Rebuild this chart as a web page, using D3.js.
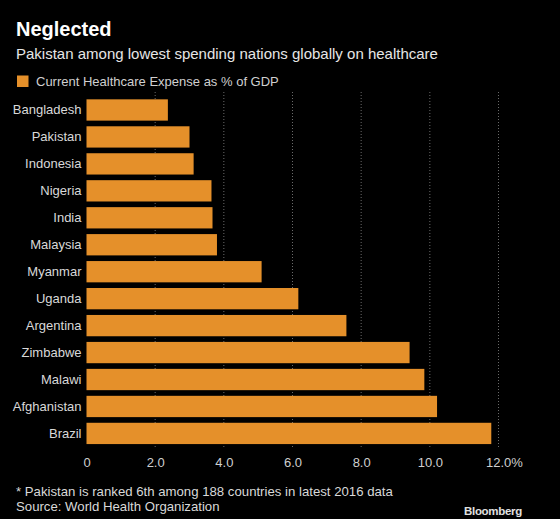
<!DOCTYPE html>
<html><head><meta charset="utf-8">
<script src="https://cdn.jsdelivr.net/npm/d3@7"></script>
<style>html,body{margin:0;padding:0;background:#000;}svg{display:block;}</style>
</head><body>
<script>
const countries = ["Bangladesh","Pakistan","Indonesia","Nigeria","India","Malaysia","Myanmar","Uganda","Argentina","Zimbabwe","Malawi","Afghanistan","Brazil"];
const values = [2.37,3.00,3.12,3.64,3.67,3.80,5.10,6.17,7.57,9.41,9.84,10.21,11.79];
const tickValues = [0,2,4,6,8,10,12];
const tickLabels = ["0","2.0","4.0","6.0","8.0","10.0","12.0"];

const W=560,H=519;
const font="'Liberation Sans', Arial, sans-serif";
const svg=d3.select("body").append("svg").attr("width",W).attr("height",H).style("background","#000");

svg.append("text").attr("x",16).attr("y",35.5).attr("fill","#fff").attr("font-family",font).attr("font-weight","bold").attr("font-size",20).text("Neglected");
svg.append("text").attr("x",16).attr("y",58.5).attr("fill","#e6e6e6").attr("font-family",font).attr("font-size",15).text("Pakistan among lowest spending nations globally on healthcare");
svg.append("rect").attr("x",17).attr("y",75.5).attr("width",11.5).attr("height",11.5).attr("fill","#E5902A");
svg.append("text").attr("x",36).attr("y",85.5).attr("fill","#d0d0d0").attr("font-family",font).attr("font-size",13).text("Current Healthcare Expense as % of GDP");

const x=d3.scaleLinear().domain([0,12]).range([86.5,498.5]);
const y=d3.scaleBand().domain(countries).range([96.5,446.9]).paddingInner(0.21).paddingOuter(0.105);

// gridlines
svg.append("g").selectAll("line").data(tickValues.filter(d=>d>0)).join("line")
  .attr("x1",d=>x(d)).attr("x2",d=>x(d)).attr("y1",92).attr("y2",447)
  .attr("stroke","#6a6a6a").attr("stroke-width",1).attr("stroke-dasharray","1,2");

svg.append("g").selectAll("rect").data(countries).join("rect")
  .attr("x",x(0)).attr("y",d=>y(d)).attr("height",y.bandwidth())
  .attr("width",(d,i)=>x(values[i])-x(0)).attr("fill","#E5902A");

// y axis
const yAxis=svg.append("g").attr("transform",`translate(${x(0)},0)`)
  .call(d3.axisLeft(y).tickSize(0).tickPadding(5));
yAxis.select(".domain").remove();
yAxis.selectAll("text").attr("fill","#d9d9d9").attr("font-family",font).attr("font-size",13);

// x axis
const xAxis=svg.append("g").attr("transform","translate(0,458)")
  .call(d3.axisBottom(x).tickValues(tickValues).tickSize(0).tickPadding(0).tickFormat((d,i)=>tickLabels[i]));
xAxis.select(".domain").remove();
xAxis.selectAll("text").attr("fill","#cfcfcf").attr("font-family",font).attr("font-size",13);
xAxis.selectAll(".tick").filter(d=>d===12).select("text")
  .attr("text-anchor","start").attr("dx","-13").text(tickLabels[6]+"%");

svg.append("text").attr("x",16).attr("y",496).attr("fill","#d9d9d9").attr("font-family",font).attr("font-size",13.2).text("* Pakistan is ranked 6th among 188 countries in latest 2016 data");
svg.append("text").attr("x",16).attr("y",511).attr("fill","#d9d9d9").attr("font-family",font).attr("font-size",13.2).text("Source: World Health Organization");
svg.append("text").attr("x",522).attr("y",515).attr("text-anchor","end").attr("fill","#e0e0e0").attr("font-family",font).attr("font-weight","bold").attr("font-size",11.5).attr("letter-spacing","-0.3").text("Bloomberg");
</script>
</body></html>
